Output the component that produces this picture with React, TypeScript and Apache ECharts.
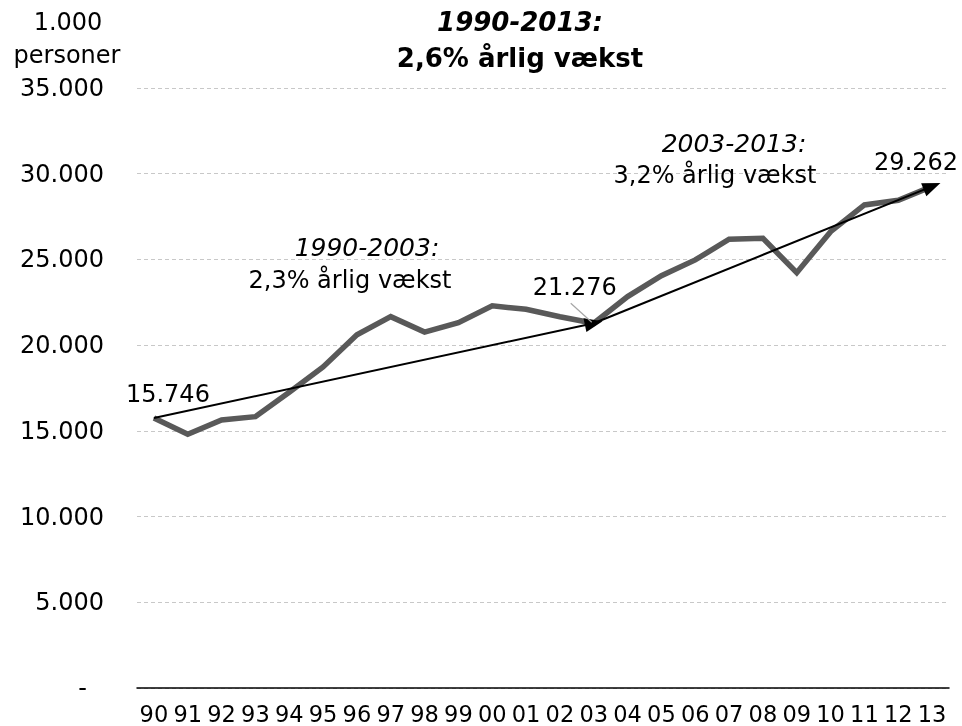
import React, { useEffect, useRef } from "react";
import * as echarts from "echarts";

const years = ["90","91","92","93","94","95","96","97","98","99","00","01","02","03","04","05","06","07","08","09","10","11","12","13"];
const persons = [15746,14800,15630,15830,17250,18730,20600,21660,20760,21310,22290,22090,21660,21276,22830,24050,24970,26180,26230,24230,26620,28180,28450,29262];
const yTicks = [0,5000,10000,15000,20000,25000,30000,35000];
const labelledIdx = [0, 13, 23];
const trend1 = { from: 0, to: 13 };
const trend2 = { from: 13, to: 23 };

const FONT = "DejaVu Sans, Verdana, sans-serif";

function fmt(v: number): string {
  const s = Math.round(v).toString();
  return s.replace(/\B(?=(\d{3})+(?!\d))/g, ".");
}

export default function App() {
  const ref = useRef<HTMLDivElement>(null);
  useEffect(() => {
    if (!ref.current) return;
    const chart = echarts.init(ref.current, null, { renderer: "svg" });
    const labelOffsets: Record<number, number[]> = { 0: [14, -7], 13: [-19, -19], 23: [-16, -7] };
    const data = persons.map((v, i) =>
      labelledIdx.includes(i)
        ? {
            value: v,
            label: {
              show: true,
              position: "top",
              offset: labelOffsets[i],
              formatter: () => fmt(v),
              fontSize: 24,
              fontFamily: FONT,
              color: "#000",
            },
          }
        : v
    );
    chart.setOption({
      animation: false,
      textStyle: { fontFamily: FONT },
      grid: { left: 137, right: 13, top: 88, bottom: 38, containLabel: false },
      xAxis: {
        type: "category",
        data: years,
        boundaryGap: true,
        axisLine: { lineStyle: { color: "#000", width: 1.5 } },
        axisTick: { show: false },
        axisLabel: { fontSize: 22.5, color: "#000", margin: 14, fontFamily: FONT, interval: 0 },
      },
      yAxis: {
        type: "value",
        min: yTicks[0],
        max: yTicks[yTicks.length - 1],
        interval: yTicks[1] - yTicks[0],
        axisLine: { show: false },
        axisTick: { show: false },
        splitLine: { lineStyle: { color: "#c8c8c8", type: [4, 3], width: 1 } },
        axisLabel: {
          fontSize: 24,
          color: "#000",
          margin: 33,
          fontFamily: FONT,
          formatter: (v: number) => (v === 0 ? "{d|-}" : fmt(v)),
          rich: { d: { fontSize: 24, color: "#000", fontFamily: FONT, padding: [0, 17, 0, 0] } },
        },
      },
      series: [
        {
          type: "line",
          data,
          symbol: "circle",
          symbolSize: 1,
          showSymbol: true,
          itemStyle: { color: "#595959" },
          lineStyle: { color: "#595959", width: 5.5, join: "miter" },
          z: 2,
          markLine: {
            silent: true,
            symbol: ["none", "triangle"],
            symbolSize: [14, 18],
            label: { show: false },
            lineStyle: { color: "#000", width: 2, type: "solid" },
            z: 5,
            data: [
              [
                { coord: [years[trend1.from], persons[trend1.from]] },
                { coord: [years[trend1.to], persons[trend1.to]] },
              ],
              [
                { coord: [years[trend2.from], persons[trend2.from]] },
                { coord: [years[trend2.to], persons[trend2.to]] },
              ],
            ],
          },
        },
      ],
    });
    const p = chart.convertToPixel({ gridIndex: 0 }, [13, persons[13]]) as number[];
    const t = (text: string, x: number, y: number, font: string) => ({
      type: "text",
      x,
      y,
      z: 20,
      style: { text, font, fill: "#000", align: "center", verticalAlign: "middle" },
    });
    chart.setOption({
      graphic: [
        t("1.000", 68, 22, `24px ${FONT}`),
        t("personer", 67, 55, `24px ${FONT}`),
        t("1990-2013:", 520, 22, `italic bold 26px ${FONT}`),
        t("2,6% årlig vækst", 520, 58, `bold 26px ${FONT}`),
        t("1990-2003:", 367, 247, `italic 25px ${FONT}`),
        t("2,3% årlig vækst", 350, 280, `24px ${FONT}`),
        t("2003-2013:", 734, 143, `italic 25px ${FONT}`),
        t("3,2% årlig vækst", 715, 175, `24px ${FONT}`),
        { type: "line", shape: { x1: p[0] - 23, y1: p[1] - 20, x2: p[0] - 2, y2: p[1] - 1 }, style: { stroke: "#a6a6a6", lineWidth: 1.2 }, z: 10 },
      ],
    });
    return () => chart.dispose();
  }, []);
  return <div ref={ref} style={{ position: "fixed", left: 0, top: 0, width: 962, height: 726 }} />;
}
